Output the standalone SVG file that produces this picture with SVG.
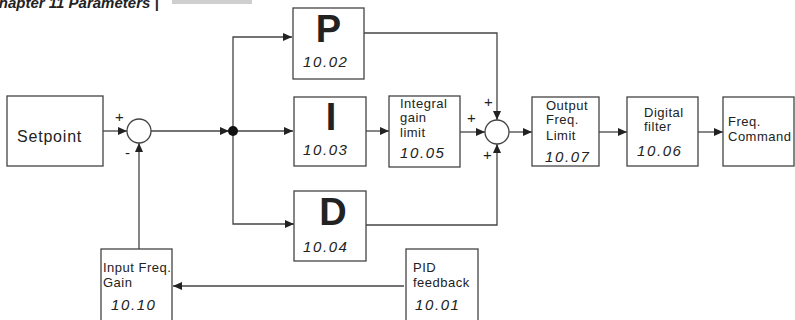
<svg xmlns="http://www.w3.org/2000/svg" width="795" height="320" viewBox="0 0 795 320">
<style>
.box{fill:#fff;stroke:#444;stroke-width:1.3}
.ln{fill:none;stroke:#444;stroke-width:1.3}
.t{font-family:"Liberation Sans",Arial,sans-serif;fill:#222}
.s{font-size:13px;letter-spacing:0.5px}
.n{font-size:15px;font-style:italic;letter-spacing:1.6px}
.big{font-size:38px;font-weight:bold}
.sign{font-family:"Liberation Sans",Arial,sans-serif;font-size:15px;fill:#222}
</style>
<defs>
<marker id="ar" markerUnits="userSpaceOnUse" markerWidth="10" markerHeight="8" refX="9" refY="4" orient="auto">
<path d="M0,0 L9,4 L0,8 Z" fill="#222"/>
</marker>
</defs>
<rect width="795" height="320" fill="#fff"/>
<text x="-12" y="8" font-family="Liberation Sans,Arial,sans-serif" font-size="15" font-weight="bold" font-style="italic" fill="#222">Chapter 11 Parameters |</text>
<rect x="172" y="0" width="80" height="4" fill="#cfcfcf"/>

<g id="connectors">
<path class="ln" d="M103,131 H127" marker-end="url(#ar)"/>
<path class="ln" d="M151,131 H229" marker-end="url(#ar)"/>
<path class="ln" d="M233,131 H293" marker-end="url(#ar)"/>
<path class="ln" d="M233,131 V37 H292" marker-end="url(#ar)"/>
<path class="ln" d="M233,131 V224 H294" marker-end="url(#ar)"/>
<path class="ln" d="M364,33 H497 V120" marker-end="url(#ar)"/>
<path class="ln" d="M366,131 H389" marker-end="url(#ar)"/>
<path class="ln" d="M460,132 H485" marker-end="url(#ar)"/>
<path class="ln" d="M366,225 H497 V144" marker-end="url(#ar)"/>
<path class="ln" d="M509,132 H532" marker-end="url(#ar)"/>
<path class="ln" d="M599,132 H627" marker-end="url(#ar)"/>
<path class="ln" d="M698,132 H723" marker-end="url(#ar)"/>
<path class="ln" d="M404,286 H173" marker-end="url(#ar)"/>
<path class="ln" d="M139,249 V143" marker-end="url(#ar)"/>
<circle cx="233" cy="131" r="5" fill="#111"/>
</g>

<g id="setpoint">
<rect class="box" x="7" y="96" width="96" height="70"/>
<text class="t" x="17" y="142" font-size="16" letter-spacing="0.8">Setpoint</text>
</g>

<g id="sum1">
<circle class="box" cx="139" cy="131" r="12"/>
<text class="sign" x="115" y="122">+</text>
<text class="sign" x="125" y="158">-</text>
</g>

<g id="p">
<rect class="box" x="293" y="8" width="71" height="71"/>
<text class="t big" x="328.5" y="42" text-anchor="middle">P</text>
<text class="t n" x="303" y="67">10.02</text>
</g>

<g id="i">
<rect class="box" x="294" y="97" width="72" height="69"/>
<text class="t big" x="331" y="130" text-anchor="middle">I</text>
<text class="t n" x="303" y="155">10.03</text>
</g>

<g id="d">
<rect class="box" x="294" y="191" width="72" height="70"/>
<text class="t big" x="333" y="225" text-anchor="middle">D</text>
<text class="t n" x="303" y="252">10.04</text>
</g>

<g id="integral">
<rect class="box" x="389" y="96" width="71" height="71"/>
<text class="t s" x="400" y="108">Integral</text>
<text class="t s" x="400" y="122">gain</text>
<text class="t s" x="400" y="137">limit</text>
<text class="t n" x="400" y="158">10.05</text>
</g>

<g id="sum2">
<circle class="box" cx="497" cy="132" r="12"/>
<text class="sign" x="484" y="107">+</text>
<text class="sign" x="467" y="123">+</text>
<text class="sign" x="483" y="160">+</text>
</g>

<g id="output">
<rect class="box" x="532" y="97" width="67" height="69"/>
<text class="t s" x="546" y="110">Output</text>
<text class="t s" x="546" y="124">Freq.</text>
<text class="t s" x="546" y="140">Limit</text>
<text class="t n" x="545" y="162">10.07</text>
</g>

<g id="filter">
<rect class="box" x="627" y="97" width="71" height="69"/>
<text class="t s" x="644" y="117">Digital</text>
<text class="t s" x="644" y="131">filter</text>
<text class="t n" x="637" y="156">10.06</text>
</g>

<g id="freqcmd">
<rect class="box" x="723" y="97" width="71" height="69"/>
<text class="t s" x="728" y="126">Freq.</text>
<text class="t s" x="728" y="141" letter-spacing="0.3">Command</text>
</g>

<g id="inputgain">
<rect class="box" x="101" y="249" width="71" height="80"/>
<text class="t s" x="103" y="272" letter-spacing="0">Input Freq.</text>
<text class="t s" x="103" y="287">Gain</text>
<text class="t n" x="111" y="310">10.10</text>
</g>

<g id="pidfb">
<rect class="box" x="406" y="249" width="72" height="80"/>
<text class="t s" x="413" y="272">PID</text>
<text class="t s" x="413" y="287">feedback</text>
<text class="t n" x="415" y="310">10.01</text>
</g>
</svg>
